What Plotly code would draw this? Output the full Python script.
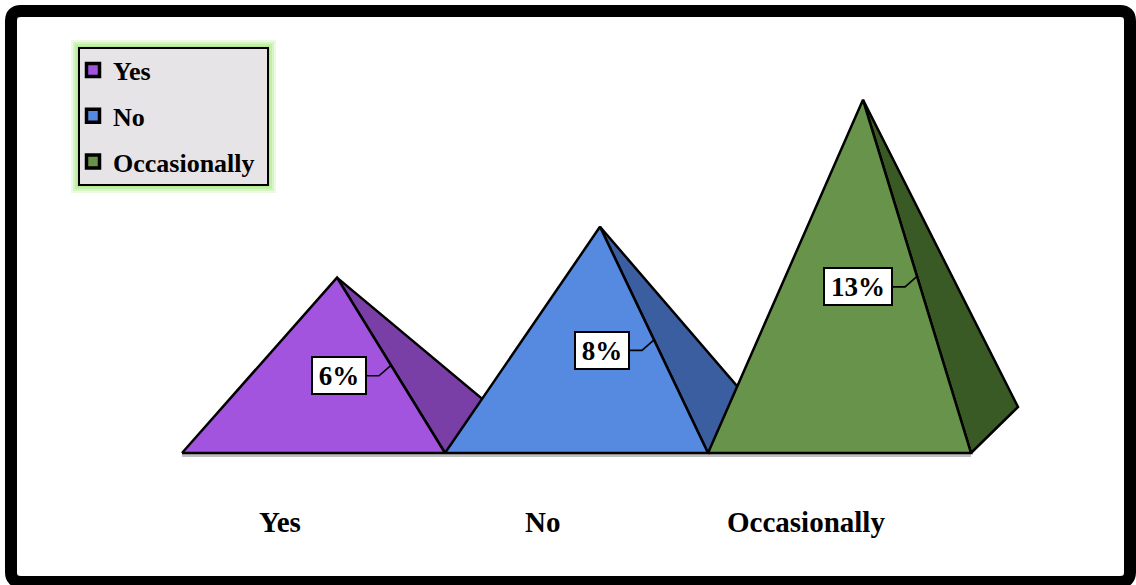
import plotly.graph_objects as go

# ---- data -------------------------------------------------------------
CATEGORIES = ["Yes", "No", "Occasionally"]
VALUES = [6, 8, 13]            # percent
VALUE_LABELS = ["6%", "8%", "13%"]

FRONT_COLORS = ["#A254DF", "#5689E0", "#67944A"]
SIDE_COLORS = ["#7A3FA6", "#3A5EA0", "#3A5A25"]

# ---- canvas / scale -----------------------------------------------------
W, H = 1136, 585
X0_PX = 313.5      # pixel x of the first category centre
X_UNIT_PX = 263.0  # pixels per category step
Y0_PX = 453.0      # pixel y of the base plane
Y_UNIT_PX = 25.4   # pixels per percent


def dx(px):
    return px / X_UNIT_PX


def dy(px):
    return px / Y_UNIT_PX


def paper(px, py):
    return px / W, 1 - py / H


DEPTH_X = dx(47)   # receding depth of the pyramid base
DEPTH_Y = dy(46)
HALF_BASE = 0.5

FONT = "Liberation Serif, Times New Roman, serif"
OUTLINE = dict(color="black", width=2.5)

fig = go.Figure()

# soft shadow under the base line
fig.add_trace(go.Scatter(
    x=[-HALF_BASE, len(VALUES) - 1 + HALF_BASE],
    y=[-dy(2.5), -dy(2.5)],
    mode="lines", line=dict(color="rgba(0,0,0,0.25)", width=3),
    showlegend=False, hoverinfo="skip"))

annotations = []
for i, (cat, val, lab) in enumerate(zip(CATEGORIES, VALUES, VALUE_LABELS)):
    left = i - HALF_BASE
    right = i + HALF_BASE
    apex_x = i + DEPTH_X / 2
    apex_y = DEPTH_Y / 2 + val

    # right-hand side face
    fig.add_trace(go.Scatter(
        x=[right, right + DEPTH_X, apex_x, right],
        y=[0, DEPTH_Y, apex_y, 0],
        fill="toself", fillcolor=SIDE_COLORS[i], mode="lines",
        line=OUTLINE, showlegend=False, hoverinfo="skip"))
    # front face
    fig.add_trace(go.Scatter(
        x=[left, right, apex_x, left],
        y=[0, 0, apex_y, 0],
        fill="toself", fillcolor=FRONT_COLORS[i], mode="lines",
        line=OUTLINE, showlegend=False, name=cat,
        hovertemplate=f"{cat}: {val}%<extra></extra>"))

    # value label with an elbow leader to the middle of the front edge
    ax = (apex_x + right) / 2
    ay = apex_y / 2
    lx = [ax, ax - dx(12), ax - dx(24)]
    ly = [ay, ay - dy(10.5), ay - dy(10.5)]
    fig.add_trace(go.Scatter(
        x=lx, y=ly, mode="lines", line=dict(color="black", width=1.6),
        showlegend=False, hoverinfo="skip"))
    annotations.append(dict(
        x=lx[-1], y=ly[-1], xref="x", yref="y",
        xanchor="right", yanchor="middle",
        text=lab, showarrow=False,
        font=dict(family=FONT, size=27, color="black", weight="bold"),
        bgcolor="white", bordercolor="black", borderwidth=2, borderpad=2,
        width=14 * len(lab) + 20, height=31))

    # category label under each pyramid
    annotations.append(dict(
        x=i - dx(34), y=-dy(69), xref="x", yref="y",
        xanchor="center", yanchor="middle",
        text=cat, showarrow=False,
        font=dict(family=FONT, size=29, color="black", weight="bold")))

# legend entries
for i, cat in enumerate(CATEGORIES):
    fig.add_trace(go.Scatter(
        x=[None], y=[None], mode="markers", name=cat, legendgroup=cat,
        marker=dict(symbol="square", size=13, color=FRONT_COLORS[i],
                    line=dict(color="black", width=3.5))))

# ---- frame and legend box ----------------------------------------------
shapes = []
L, T, R, B, RAD = 11, 11, 1130, 582, 10
pts = {
    "a": paper(L + RAD, T), "b": paper(R - RAD, T), "c": paper(R, T),
    "d": paper(R, T + RAD), "e": paper(R, B - RAD), "f": paper(R, B),
    "g": paper(R - RAD, B), "h": paper(L + RAD, B), "i": paper(L, B),
    "j": paper(L, B - RAD), "k": paper(L, T + RAD), "l": paper(L, T),
}


def p(k):
    return f"{pts[k][0]:.5f},{pts[k][1]:.5f}"


frame_path = (f"M {p('a')} L {p('b')} Q {p('c')} {p('d')} L {p('e')} "
              f"Q {p('f')} {p('g')} L {p('h')} Q {p('i')} {p('j')} "
              f"L {p('k')} Q {p('l')} {p('a')} Z")
shapes.append(dict(type="path", path=frame_path, xref="paper", yref="paper",
                   line=dict(color="black", width=12), layer="above"))

LX0, LY0, LX1, LY1 = 79, 48, 268, 185
for grow, alpha in [(8, 0.22), (6, 0.3), (4, 0.4), (2, 0.55)]:
    x0, y0 = paper(LX0 - grow, LY0 - grow)
    x1, y1 = paper(LX1 + grow, LY1 + grow)
    shapes.append(dict(type="rect", xref="paper", yref="paper",
                       x0=x0, y0=y0, x1=x1, y1=y1,
                       fillcolor=f"rgba(165,232,125,{alpha})",
                       line=dict(width=0), layer="below"))
x0, y0 = paper(LX0, LY0)
x1, y1 = paper(LX1, LY1)
shapes.append(dict(type="rect", xref="paper", yref="paper",
                   x0=x0, y0=y0, x1=x1, y1=y1, fillcolor="#E6E4E6",
                   line=dict(color="black", width=2), layer="below"))

leg_x, leg_y = paper(73, 46.5)

fig.update_layout(
    width=W, height=H, autosize=False,
    margin=dict(l=0, r=0, t=0, b=0, pad=0),
    paper_bgcolor="white", plot_bgcolor="white",
    xaxis=dict(range=[-X0_PX / X_UNIT_PX, (W - X0_PX) / X_UNIT_PX],
               visible=False, fixedrange=True),
    yaxis=dict(range=[-(H - Y0_PX) / Y_UNIT_PX, Y0_PX / Y_UNIT_PX],
               visible=False, fixedrange=True),
    showlegend=True,
    legend=dict(x=leg_x, y=leg_y, xanchor="left", yanchor="top",
                bgcolor="rgba(0,0,0,0)", borderwidth=0,
                font=dict(family=FONT, size=26, color="black", weight="bold"),
                tracegroupgap=9, itemsizing="trace"),
    shapes=shapes,
    annotations=annotations,
)

fig.write_html("out.html")
